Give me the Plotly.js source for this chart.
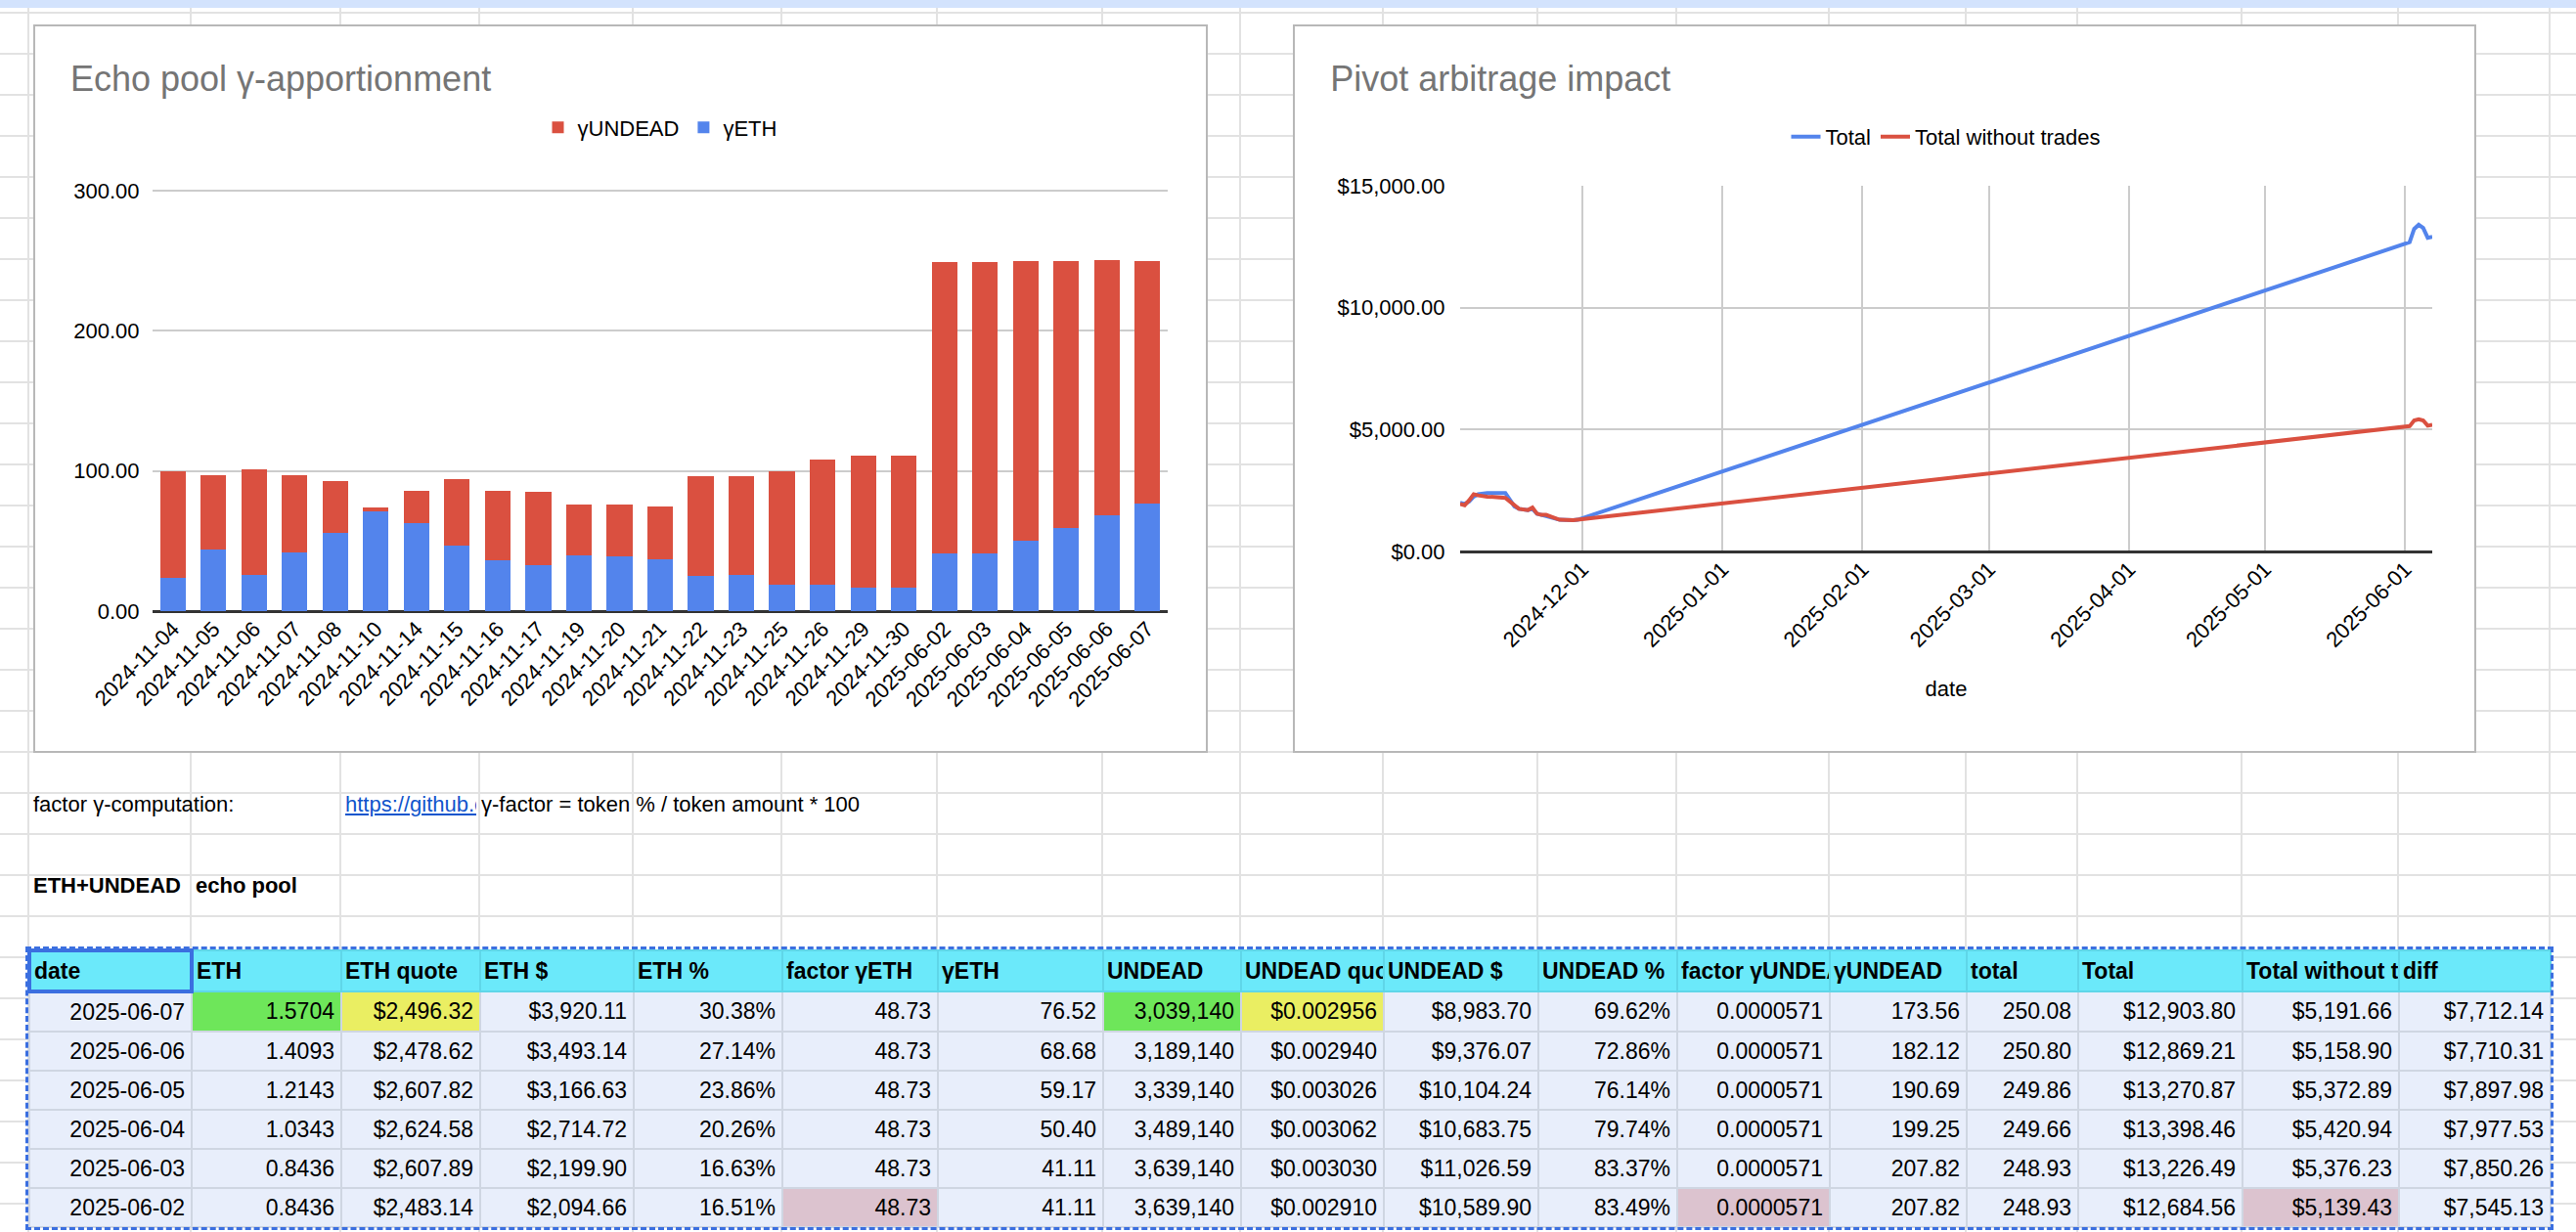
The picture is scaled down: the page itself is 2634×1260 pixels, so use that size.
<!DOCTYPE html>
<html>
<head>
<meta charset="utf-8">
<script src="https://cdn.plot.ly/plotly-3.0.1.min.js"></script>
<style>
  body { margin:0; width:2634px; height:1260px; overflow:hidden; background:#fff; font-family:"Liberation Sans", Arial, sans-serif; position:relative; }
  #grid { position:absolute; left:0; top:0; width:2634px; height:1260px; }
  .gl { position:absolute; background:#e2e2e2; }
  .chart { position:absolute; top:25px; width:1201px; height:745px; border:2px solid #b8b8b8; background:#fff; box-sizing:border-box; }
  .txt { position:absolute; font-size:22px; color:#000; white-space:nowrap; }
  table { position:absolute; left:28px; top:970px; border-collapse:collapse; table-layout:fixed; font-size:23px; outline:3px dashed #3b6fe0; outline-offset:-1px; }
  td { border:2px solid #cfd6e2; height:38px; padding:0 6px; text-align:right; background:#e8eefb; white-space:nowrap; overflow:hidden; }
  th { border:2px solid #5fd6e8; height:38px; padding:0 3px; text-align:left; background:#6be9fa; font-weight:bold; white-space:nowrap; overflow:hidden; }
</style>
</head>
<body>
<div id="grid"></div>
<div style="position:absolute;left:0;top:0;width:2634px;height:8px;background:#d3e3fd;"></div>
<div class="chart" id="bar" style="left:34px;"></div>
<div class="chart" id="line" style="left:1322px;width:1210px;"></div>
<div class="txt" style="left:34px;top:810px;">factor γ-computation:</div>
<div class="txt" style="left:353px;top:810px;color:#1155cc;text-decoration:underline;width:134px;overflow:hidden;">https://github.com</div>
<div class="txt" style="left:492px;top:810px;">γ-factor = token % / token amount * 100</div>
<div class="txt" style="left:34px;top:893px;font-weight:bold;width:160px;overflow:hidden;">ETH+UNDEAD</div>
<div class="txt" style="left:200px;top:893px;font-weight:bold;">echo pool</div>
<table id="tbl"></table>
<script>
// ---- bar chart data ----
var barDates = ['2024-11-04','2024-11-05','2024-11-06','2024-11-07','2024-11-08','2024-11-10','2024-11-14',
  '2024-11-15','2024-11-16','2024-11-17','2024-11-19','2024-11-20','2024-11-21','2024-11-22','2024-11-23',
  '2024-11-25','2024-11-26','2024-11-29','2024-11-30','2025-06-02','2025-06-03','2025-06-04','2025-06-05',
  '2025-06-06','2025-06-07'];
var gammaEth = [24, 44, 26, 42, 56, 71, 63, 47, 36, 33, 40, 39, 37, 25, 26, 19, 19, 17, 17,
  41.11, 41.11, 50.40, 59.17, 68.68, 76.52];
var gammaUndead = [76, 53, 75, 55, 37, 3, 23, 47, 50, 52, 36, 37, 38, 71, 70, 81, 89, 94, 94,
  207.82, 207.82, 199.25, 190.69, 182.12, 173.56];

// ---- line chart data ----
var totalSeries = [2000, 1950, 2050, 2250, 2350, 2400, 2400, 2100, 1850, 1750, 1700, 1750, 1550, 1500, 1450,
  1350, 1300, 1280, 1300, 12684.56, 13226.49, 13398.46, 13270.87, 12869.21, 12903.80];
var noTradeSeries = [1950, 1900, 2100, 2350, 2300, 2250, 2200, 2050, 1900, 1750, 1700, 1800, 1550, 1500, 1500,
  1350, 1300, 1280, 1300, 5139.43, 5376.23, 5420.94, 5372.89, 5158.90, 5191.66];

// ---- table data ----
var headers = ['date','ETH','ETH quote','ETH $','ETH %','factor γETH','γETH','UNDEAD','UNDEAD quote','UNDEAD $',
  'UNDEAD %','factor γUNDEAD','γUNDEAD','total','Total','Total without trades','diff'];
var rows = [
  ['2025-06-07','1.5704','$2,496.32','$3,920.11','30.38%','48.73','76.52','3,039,140','$0.002956','$8,983.70','69.62%','0.0000571','173.56','250.08','$12,903.80','$5,191.66','$7,712.14'],
  ['2025-06-06','1.4093','$2,478.62','$3,493.14','27.14%','48.73','68.68','3,189,140','$0.002940','$9,376.07','72.86%','0.0000571','182.12','250.80','$12,869.21','$5,158.90','$7,710.31'],
  ['2025-06-05','1.2143','$2,607.82','$3,166.63','23.86%','48.73','59.17','3,339,140','$0.003026','$10,104.24','76.14%','0.0000571','190.69','249.86','$13,270.87','$5,372.89','$7,897.98'],
  ['2025-06-04','1.0343','$2,624.58','$2,714.72','20.26%','48.73','50.40','3,489,140','$0.003062','$10,683.75','79.74%','0.0000571','199.25','249.66','$13,398.46','$5,420.94','$7,977.53'],
  ['2025-06-03','0.8436','$2,607.89','$2,199.90','16.63%','48.73','41.11','3,639,140','$0.003030','$11,026.59','83.37%','0.0000571','207.82','248.93','$13,226.49','$5,376.23','$7,850.26'],
  ['2025-06-02','0.8436','$2,483.14','$2,094.66','16.51%','48.73','41.11','3,639,140','$0.002910','$10,589.90','83.49%','0.0000571','207.82','248.93','$12,684.56','$5,139.43','$7,545.13']
];

var colEdges = [28,194,347,489,646,798,957,1126,1267,1413,1571,1713,1869,2009,2123,2291,2451,2606];

// spreadsheet grid behind
var grid = document.getElementById('grid');
colEdges.forEach(function (x) {
  var d = document.createElement('div'); d.className = 'gl';
  d.style.left = x + 'px'; d.style.top = '0px'; d.style.width = '2px'; d.style.height = '1260px';
  grid.appendChild(d);
});
for (var y = 12; y < 1260; y += 42) {
  var d = document.createElement('div'); d.className = 'gl';
  d.style.left = '0px'; d.style.top = y + 'px'; d.style.width = '2634px'; d.style.height = '2px';
  grid.appendChild(d);
}

// table with fixed column widths
var tbl = document.getElementById('tbl');
tbl.style.width = (colEdges[colEdges.length - 1] - colEdges[0]) + 'px';
var cg = document.createElement('colgroup');
headers.forEach(function (h, i) {
  var c = document.createElement('col');
  c.style.width = (colEdges[i + 1] - colEdges[i]) + 'px';
  cg.appendChild(c);
});
tbl.appendChild(cg);
var hr = document.createElement('tr');
headers.forEach(function (h, i) {
  var th = document.createElement('th'); th.textContent = h;
  if (i === 0) th.style.border = '4px solid #3b6fe0';
  hr.appendChild(th);
});
tbl.appendChild(hr);
var special = {'0,1':'#6ee65a','0,7':'#6ee65a','0,2':'#eaee62','0,8':'#eaee62','5,5':'#dcc3cf','5,11':'#dcc3cf','5,15':'#dcc3cf'};
rows.forEach(function (r, ri) {
  var tr = document.createElement('tr');
  r.forEach(function (v, ci) {
    var td = document.createElement('td'); td.textContent = v;
    if (special[ri + ',' + ci]) td.style.background = special[ri + ',' + ci];
    tr.appendChild(td);
  });
  tbl.appendChild(tr);
});

var fontBase = {family: 'Liberation Sans, Arial, sans-serif', color: '#000', size: 22};

Plotly.newPlot('bar', [
  {x: barDates, y: gammaEth, name: 'γETH', type: 'bar', marker: {color: '#5384ec'}},
  {x: barDates, y: gammaUndead, name: 'γUNDEAD', type: 'bar', marker: {color: '#da5040'}}
], {
  width: 1197, height: 741, barmode: 'stack', bargap: 0.37,
  font: fontBase, paper_bgcolor: '#fff', plot_bgcolor: '#fff',
  margin: {l: 120, r: 39, t: 161, b: 143},
  title: {text: 'Echo pool γ-apportionment', x: 0.03, xanchor: 'left', y: 0.945, font: {size: 36, color: '#757575'}},
  legend: {orientation: 'h', x: 0.5, xanchor: 'center', y: 1.18, traceorder: 'reversed', font: {size: 22}},
  xaxis: {type: 'category', tickangle: -45, showgrid: false, ticks: ''},
  yaxis: {range: [0, 305], dtick: 100, tickformat: '.2f', gridcolor: '#cccccc', gridwidth: 2, zeroline: true,
          zerolinecolor: '#333', zerolinewidth: 3, ticks: 'outside', ticklen: 8, tickcolor: '#fff'}
}, {displayModeBar: false, staticPlot: true});

Plotly.newPlot('line', [
  {x: barDates, y: totalSeries, name: 'Total', mode: 'lines', line: {color: '#5384ec', width: 4}},
  {x: barDates, y: noTradeSeries, name: 'Total without trades', mode: 'lines', line: {color: '#da5040', width: 4}}
], {
  width: 1206, height: 741,
  font: fontBase, paper_bgcolor: '#fff', plot_bgcolor: '#fff', showlegend: true,
  margin: {l: 169, r: 43, t: 163, b: 204},
  title: {text: 'Pivot arbitrage impact', x: 0.03, xanchor: 'left', y: 0.945, font: {size: 36, color: '#757575'}},
  legend: {orientation: 'h', x: 0.5, xanchor: 'center', y: 1.19, font: {size: 22}},
  xaxis: {type: 'date', range: ['2024-11-04', '2025-06-07'], tickvals: ['2024-12-01','2025-01-01','2025-02-01','2025-03-01','2025-04-01','2025-05-01','2025-06-01'],
          tickformat: '%Y-%m-%d', tickangle: -45, gridcolor: '#cccccc', gridwidth: 2,
          title: {text: 'date', font: {size: 22}, standoff: 30}},
  yaxis: {range: [0, 15000], dtick: 5000, tickprefix: '$', tickformat: ',.2f', gridcolor: '#cccccc', gridwidth: 2,
          zeroline: true, zerolinecolor: '#333', zerolinewidth: 3, ticks: 'outside', ticklen: 10, tickcolor: '#fff'}
}, {displayModeBar: false, staticPlot: true});
</script>
</body>
</html>
